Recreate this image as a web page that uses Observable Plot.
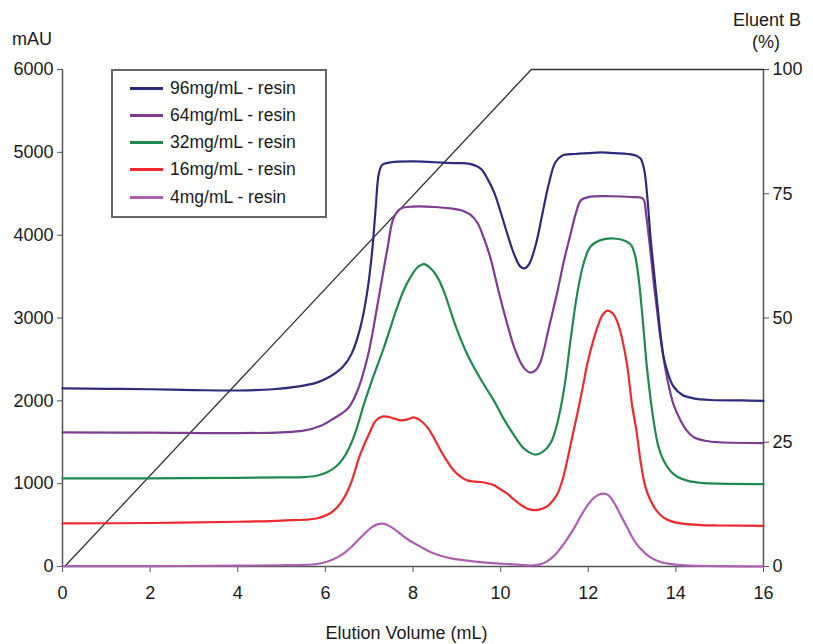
<!DOCTYPE html>
<html>
<head>
<meta charset="utf-8">
<script src="https://cdn.jsdelivr.net/npm/d3@7"></script>
<script src="https://cdn.jsdelivr.net/npm/@observablehq/plot@0.6"></script>
<style>
  body { margin: 0; background: #fff; }
  #wrap { position: relative; width: 813px; height: 644px; font-family: "Liberation Sans", Arial, sans-serif; color: #1a1a1a; }
  .t { position: absolute; font-size: 18px; white-space: nowrap; line-height: 1; }
  #legend { position: absolute; left: 111px; top: 69px; width: 212px; height: 145px; border: 2px solid #666; background: #fff; }
  .row { position: absolute; left: 17px; height: 20px; display: flex; align-items: center; font-size: 17.5px; }
  .sw { width: 33px; height: 3px; margin-right: 7px; }
</style>
</head>
<body>
<div id="wrap">
  <div id="chart"></div>
  <div class="t" style="left:12px; top:30px;">mAU</div>
  <div class="t" style="left:733px; top:11px;">Eluent B</div>
  <div class="t" style="left:752px; top:33px;">(%)</div>
  <div class="t" style="left:0; width:813px; text-align:center; top:624px;">Elution Volume (mL)</div>
  <div id="legend"></div>
</div>
<script>
// ---- data ----
const seriesNames = ["96mg/mL - resin", "64mg/mL - resin", "32mg/mL - resin", "16mg/mL - resin", "4mg/mL - resin"];
const seriesColors = ["#2d2b7c", "#7d3c90", "#1f8a50", "#ec2a30", "#ad60b0"];

const x96 = [0,1,2,3,4,4.8,5.4,5.8,6.1,6.4,6.6,6.8,6.96,7.07,7.15,7.22,7.3,7.5,8,8.5,9,9.3,9.55,9.7,9.85,10.0,10.15,10.3,10.45,10.55,10.65,10.8,10.95,11.1,11.25,11.4,11.7,12,12.3,12.6,12.9,13.1,13.2,13.28,13.35,13.42,13.5,13.58,13.65,13.72,13.82,13.95,14.15,14.4,14.8,15.5,16];
const y96 = [2150,2145,2140,2130,2125,2140,2175,2220,2290,2410,2570,2890,3330,3820,4340,4740,4850,4880,4890,4880,4870,4860,4800,4680,4520,4280,4020,3780,3620,3600,3650,3880,4250,4620,4880,4960,4980,4990,5000,4990,4980,4960,4920,4780,4450,3980,3560,3150,2800,2530,2330,2170,2070,2030,2010,2005,2000];

const x64 = [0,2,4,5,5.5,5.9,6.2,6.5,6.7,6.96,7.18,7.41,7.56,7.72,8,8.5,8.9,9.1,9.3,9.47,9.62,9.77,9.95,10.15,10.3,10.45,10.57,10.68,10.8,10.91,11.1,11.3,11.45,11.6,11.72,11.83,12,12.5,13,13.25,13.32,13.4,13.5,13.58,13.65,13.81,13.95,14.11,14.25,14.41,14.7,15,16];
const y64 = [1620,1615,1610,1620,1640,1700,1790,1900,2080,2520,3130,3820,4210,4320,4345,4340,4320,4300,4250,4150,3960,3720,3330,2930,2660,2470,2375,2340,2370,2470,2880,3330,3700,4020,4270,4420,4460,4470,4460,4440,4250,3900,3400,3050,2750,2250,1950,1760,1640,1560,1515,1500,1490];

const x32 = [0,2,4,5,5.5,5.8,6.05,6.25,6.4,6.55,6.7,6.88,7.1,7.34,7.64,7.8,7.95,8.1,8.25,8.4,8.55,8.7,8.86,9.01,9.24,9.47,9.65,9.85,10.05,10.3,10.5,10.65,10.8,10.95,11.14,11.28,11.45,11.6,11.75,11.9,12.05,12.28,12.58,12.85,12.98,13.07,13.15,13.24,13.35,13.5,13.6,13.72,13.88,14.04,14.3,14.57,15,16];
const y32 = [1065,1065,1070,1075,1078,1095,1140,1210,1300,1440,1640,1960,2300,2650,3130,3350,3500,3610,3650,3600,3500,3330,3080,2850,2560,2330,2170,2000,1800,1590,1440,1380,1350,1380,1490,1700,2150,2750,3300,3670,3860,3940,3960,3930,3880,3750,3480,3000,2350,1730,1450,1280,1150,1080,1030,1010,1000,995];

const x16 = [0,2,4,5,5.8,6.1,6.27,6.45,6.58,6.8,7.03,7.15,7.3,7.45,7.6,7.75,7.9,8.02,8.15,8.33,8.5,8.63,8.78,8.93,9.1,9.24,9.4,9.54,9.7,9.85,10.0,10.15,10.3,10.46,10.6,10.76,10.9,11.07,11.2,11.3,11.42,11.52,11.65,11.75,11.88,11.98,12.1,12.21,12.33,12.44,12.55,12.66,12.76,12.89,13.0,13.1,13.2,13.3,13.42,13.55,13.72,13.9,14.11,14.57,15,16];
const y16 = [520,525,540,555,580,640,715,850,1000,1360,1640,1760,1810,1805,1780,1765,1780,1800,1770,1680,1530,1400,1270,1160,1080,1040,1025,1020,1005,980,930,880,810,745,700,680,690,730,800,880,1060,1280,1600,1840,2180,2450,2700,2890,3040,3090,3060,2960,2780,2420,1950,1640,1250,970,800,680,590,545,520,500,495,490];

const x4 = [0,2,4,5,5.5,5.81,6.05,6.27,6.45,6.58,6.75,6.88,7.05,7.2,7.3,7.4,7.55,7.72,7.9,8.17,8.4,8.63,8.9,9.24,9.6,10.0,10.4,10.7,10.9,11.07,11.25,11.45,11.65,11.83,12.0,12.13,12.25,12.35,12.45,12.59,12.74,12.89,13.04,13.2,13.42,13.65,13.95,14.3,15,16];
const y4 = [5,5,10,15,20,30,60,110,170,230,320,390,470,512,518,505,460,390,320,240,175,130,95,70,50,35,22,12,25,65,145,280,440,610,750,830,870,880,865,770,620,470,320,210,110,55,25,10,5,0];

// Eluent B gradient (%)
const gradX = [0.05, 10.7, 16];
const gradB = [0, 100, 100];

// tick labels
const xTicks = [0,2,4,6,8,10,12,14,16];
const yTicks = [0,1000,2000,3000,4000,5000,6000];
const bTicks = [0,25,50,75,100];
const bMax = 100, yMax = 6000;

// ---- build tables ----
const xs = [x96, x64, x32, x16, x4];
const ys = [y96, y64, y32, y16, y4];
const rows = [];
for (let s = 4; s >= 0; s--) {
  xs[s].forEach((v, i) => rows.push({series: seriesNames[s], x: v, y: ys[s][i]}));
}
const grad = gradX.map((v, i) => ({x: v, y: gradB[i] * yMax / bMax}));

const chart = Plot.plot({
  width: 813,
  height: 644,
  marginTop: 69,
  marginBottom: 78,
  marginLeft: 62,
  marginRight: 50,
  style: {fontFamily: "Liberation Sans, Arial, sans-serif", fontSize: "18px", color: "#1a1a1a", background: "#fff"},
  x: {domain: [0, 16]},
  y: {domain: [0, yMax]},
  color: {domain: seriesNames, range: seriesColors},
  marks: [
    Plot.axisX({ticks: xTicks, tickFormat: d => String(d), tickSize: 6, tickPadding: 14, label: null, stroke: "#555"}),
    Plot.axisY({ticks: yTicks, tickFormat: d => String(d), tickSize: 5, tickPadding: 4, label: null, stroke: "#555"}),
    Plot.axisY({anchor: "right", ticks: bTicks.map(b => b * yMax / bMax), tickFormat: d => String(Math.round(d * bMax / yMax)), tickSize: 5, tickPadding: 4, label: null, stroke: "#555"}),
    Plot.ruleX([0, 16], {stroke: "#555", strokeWidth: 1.5}),
    Plot.ruleY([0], {stroke: "#555", strokeWidth: 1.5}),
    Plot.line(grad, {x: "x", y: "y", stroke: "#333", strokeWidth: 1.3}),
    Plot.line(rows, {x: "x", y: "y", z: "series", stroke: "series", strokeWidth: 2.2, curve: "catmull-rom"})
  ]
});
document.getElementById("chart").appendChild(chart);

// legend
const legend = document.getElementById("legend");
seriesNames.forEach((name, i) => {
  const r = document.createElement("div");
  r.className = "row";
  r.style.top = (7 + i * 27.3) + "px";
  const sw = document.createElement("div");
  sw.className = "sw";
  sw.style.background = seriesColors[i];
  const tx = document.createElement("span");
  tx.textContent = name;
  r.appendChild(sw); r.appendChild(tx);
  legend.appendChild(r);
});
</script>
</body>
</html>
